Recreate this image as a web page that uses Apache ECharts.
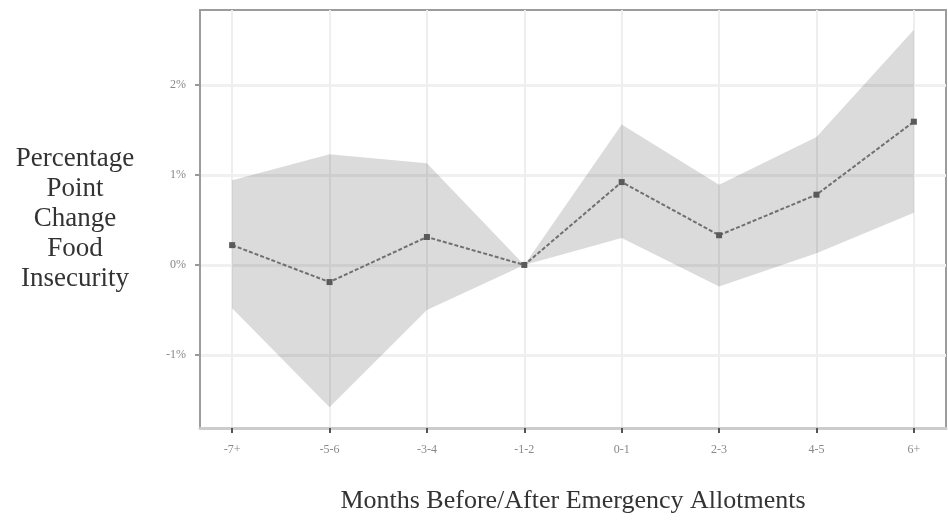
<!DOCTYPE html>
<html>
<head>
<meta charset="utf-8">
<script src="https://cdn.jsdelivr.net/npm/echarts@6/dist/echarts.min.js"></script>
<style>
html,body{margin:0;padding:0;background:#fff;}
#chart{width:948px;height:520px;}
</style>
</head>
<body>
<div id="chart"></div>
<script>
var categories = ['-7+', '-5-6', '-3-4', '-1-2', '0-1', '2-3', '4-5', '6+'];
var estimate = [0.22, -0.19, 0.31, 0.00, 0.92, 0.33, 0.78, 1.59];
var upper = [0.94, 1.23, 1.13, 0.00, 1.56, 0.89, 1.42, 2.61];
var lower = [-0.48, -1.58, -0.50, 0.00, 0.30, -0.24, 0.13, 0.58];
var yTicks = [-1, 0, 1, 2];
var xTicks = [0, 1, 2, 3, 4, 5, 6, 7];

var serif = '"Liberation Serif", "DejaVu Serif", serif';
var chart = echarts.init(document.getElementById('chart'), null, {renderer: 'canvas'});

var bandData = upper.map(function (v, i) { return [i, lower[i], v]; });
var estData = estimate.map(function (v, i) { return [i, v]; });

chart.setOption({
  animation: false,
  backgroundColor: '#ffffff',
  grid: {
    left: 200, right: 2, top: 10, bottom: 92,
    show: true, borderColor: '#9c9c9c', borderWidth: 2, backgroundColor: '#ffffff'
  },
  xAxis: {
    type: 'value',
    min: -0.33, max: 7.33,
    name: 'Months Before/After Emergency Allotments',
    nameLocation: 'middle',
    nameGap: 60,
    nameTextStyle: {fontFamily: serif, fontSize: 26, color: '#333'},
    axisLine: {show: true, onZero: false, lineStyle: {color: '#cccccc', width: 3}},
    axisTick: {show: true, customValues: xTicks, length: 5, lineStyle: {color: '#555', width: 2}},
    axisLabel: {
      customValues: xTicks,
      margin: 16,
      fontFamily: serif, fontSize: 12, color: '#888',
      formatter: function (v) { return categories[Math.round(v)]; }
    },
    splitLine: {show: true, lineStyle: {color: '#eeeeee', width: 2}}
  },
  yAxis: {
    type: 'value',
    min: -1.81, max: 2.83,
    name: 'Percentage\nPoint\nChange\nFood\nInsecurity',
    nameLocation: 'middle',
    nameRotate: 0,
    nameGap: 125,
    nameTextStyle: {fontFamily: serif, fontSize: 27, lineHeight: 30, color: '#333', align: 'center'},
    axisLine: {show: true, onZero: false, lineStyle: {color: '#9c9c9c', width: 2}},
    axisTick: {show: true, customValues: yTicks, length: 5, lineStyle: {color: '#999', width: 2}},
    axisLabel: {
      customValues: yTicks,
      margin: 14,
      fontFamily: serif, fontSize: 12, color: '#888',
      formatter: function (v) { return Math.round(v) + '%'; }
    },
    splitLine: {show: true, lineStyle: {color: '#f0f0f0', width: 3}}
  },
  series: [
    {
      name: 'ci',
      type: 'custom',
      data: bandData,
      silent: true,
      z: 1,
      renderItem: function (params, api) {
        if (params.dataIndex !== 0) { return null; }
        var pts = [];
        var i;
        for (i = 0; i < bandData.length; i++) {
          pts.push(api.coord([bandData[i][0], bandData[i][2]]));
        }
        for (i = bandData.length - 1; i >= 0; i--) {
          pts.push(api.coord([bandData[i][0], bandData[i][1]]));
        }
        return {
          type: 'polygon',
          shape: {points: pts},
          style: {fill: 'rgba(0,0,0,0.14)', stroke: null}
        };
      }
    },
    {
      name: 'estimate',
      type: 'line',
      data: estData,
      symbol: 'rect',
      symbolSize: 6,
      itemStyle: {color: '#5a5a5a'},
      lineStyle: {color: '#707070', width: 2, type: [4, 2]},
      z: 5
    }
  ]
});
</script>
</body>
</html>
